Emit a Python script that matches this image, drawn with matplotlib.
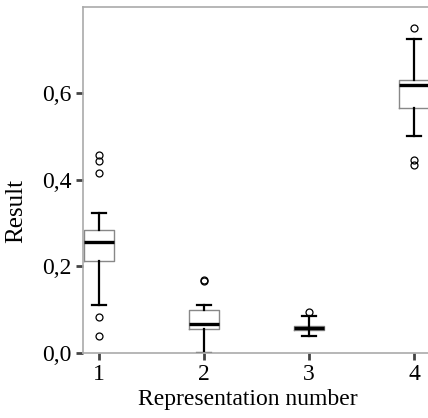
import matplotlib.pyplot as plt

# box statistics
groups = [1, 2, 3, 4]
medians = [0.255, 0.067, 0.057, 0.618]
q1 = [0.212, 0.055, 0.052, 0.565]
q3 = [0.284, 0.098, 0.063, 0.630]
whisk_lo = [0.111, 0.0, 0.040, 0.501]
whisk_hi = [0.323, 0.111, 0.085, 0.724]
outliers = [
    [0.456, 0.442, 0.416, 0.084, 0.040],
    [0.168, 0.167],
    [0.095],
    [0.749, 0.445, 0.434],
]

plt.rcParams['font.family'] = 'Liberation Serif'

stats = []
for i in range(len(groups)):
    stats.append({'med': medians[i], 'q1': q1[i], 'q3': q3[i],
                  'whislo': whisk_lo[i], 'whishi': whisk_hi[i],
                  'fliers': outliers[i], 'label': str(groups[i])})

fig = plt.figure(figsize=(4.28, 4.18), dpi=100)
ax = fig.add_axes([0.194, 0.1555, 0.811, 0.828])

ax.bxp(stats, positions=groups, widths=0.285, capwidths=0.135,
       boxprops=dict(color='#888888', linewidth=1),
       whiskerprops=dict(color='black', linewidth=1.6),
       capprops=dict(color='black', linewidth=1.6),
       medianprops=dict(color='black', linewidth=2.4),
       flierprops=dict(marker='o', markersize=5, markerfacecolor='none',
                       markeredgecolor='black', markeredgewidth=0.9))

ax.set_xlim(0.848, 4.152)
ax.set_ylim(0, 0.798)
ax.set_yticks([0, 0.2, 0.4, 0.6])
ax.set_yticklabels(['0,0', '0,2', '0,4', '0,6'])
ax.set_xticks(groups)
ax.set_xticklabels([str(g) for g in groups])

for s in ax.spines.values():
    s.set_color('#aaaaaa')
    s.set_linewidth(1.2)
ax.tick_params(length=5, width=2, color='#444444', labelsize=17, pad=3)

ax.set_xlabel('Representation number', fontsize=17)
ax.set_ylabel('Result', fontsize=18)
ax.xaxis.set_label_coords(0.476, -0.105)
ax.yaxis.set_label_coords(-0.16, 0.41)

fig.savefig('out.png', dpi=100)
